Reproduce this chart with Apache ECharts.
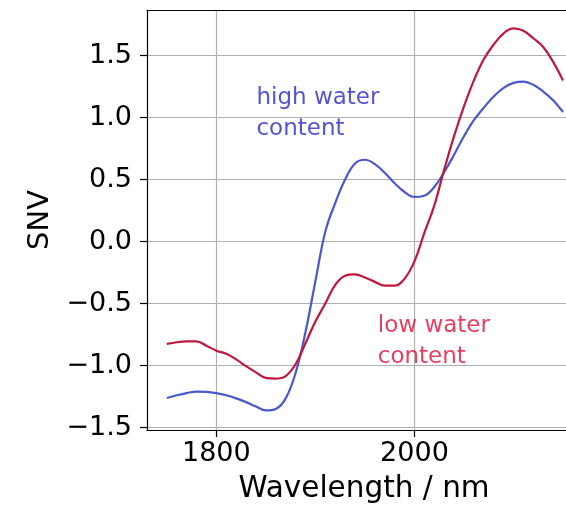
<!DOCTYPE html>
<html>
<head>
<meta charset="utf-8">
<script src="https://cdn.jsdelivr.net/npm/echarts@6/dist/echarts.min.js"></script>
<style>
html,body{margin:0;padding:0;background:#fff;}
#chart{width:566px;height:506px;}
</style>
</head>
<body>
<div id="chart"></div>
<script>
const wavelengths = [1750,1760,1770,1780,1790,1800,1810,1820,1830,1840,1850,1860,1870,1880,1890,1900,1910,1920,1930,1940,1950,1960,1970,1980,1990,2000,2010,2020,2030,2040,2050,2060,2070,2080,2090,2100,2110,2120,2130,2140,2150];
const highWater = [-1.262,-1.24,-1.222,-1.21,-1.212,-1.222,-1.24,-1.265,-1.295,-1.33,-1.362,-1.35,-1.265,-1.06,-0.73,-0.32,0.08,0.31,0.50,0.63,0.66,0.625,0.555,0.47,0.40,0.36,0.37,0.44,0.56,0.70,0.85,0.98,1.08,1.17,1.24,1.28,1.29,1.265,1.21,1.14,1.045];
const lowWater = [-0.825,-0.812,-0.805,-0.805,-0.84,-0.88,-0.905,-0.95,-1.005,-1.055,-1.10,-1.105,-1.085,-0.99,-0.82,-0.645,-0.50,-0.35,-0.275,-0.265,-0.29,-0.325,-0.355,-0.355,-0.30,-0.16,0.07,0.29,0.58,0.85,1.09,1.30,1.47,1.59,1.68,1.72,1.70,1.64,1.57,1.45,1.30];
const xTicks = [1800, 2000];
const yTicks = [-1.5, -1.0, -0.5, 0.0, 0.5, 1.0, 1.5];
const annotations = [
  {text: 'high water\ncontent', x: 1840.5, y: 1.03, color: '#2828c8'},
  {text: 'low water\ncontent', x: 1963, y: -0.81, color: '#e0103a'}
];

const chart = echarts.init(document.getElementById('chart'));
const font = 'DejaVu Sans';
chart.setOption({
  animation: false,
  backgroundColor: '#fff',
  grid: {left: 147, top: 10, right: 0, bottom: 76, containLabel: false, outerBoundsMode: 'none'},
  xAxis: [{
    type: 'value', min: 1730, max: 2153,
    name: 'Wavelength / nm', nameLocation: 'middle', nameGap: 44,
    nameTextStyle: {fontFamily: font, fontSize: 29.5, color: '#000', padding: [0, 0, 0, 15]},
    axisLine: {show: true, onZero: false, lineStyle: {color: '#000', width: 1.2}},
    axisTick: {show: true, length: 7, customValues: xTicks, lineStyle: {color: '#000', width: 1.2}},
    axisLabel: {customValues: xTicks, fontFamily: font, fontSize: 27, color: '#000', margin: 10,
      formatter: v => String(v)},
    splitLine: {show: true, lineStyle: {color: '#b0b0b0', width: 1.2}}
  }, {
    type: 'value', position: 'top', min: 1730, max: 2153,
    axisLine: {show: true, onZero: false, lineStyle: {color: '#000', width: 1.2}},
    axisTick: {show: false}, axisLabel: {show: false}, splitLine: {show: false}
  }],
  yAxis: {
    type: 'value', min: -1.52, max: 1.868,
    name: 'SNV', nameLocation: 'middle', nameGap: 92, nameRotate: 90,
    nameTextStyle: {fontFamily: font, fontSize: 29, color: '#000'},
    axisLine: {show: true, onZero: false, lineStyle: {color: '#000', width: 1.2}},
    axisTick: {show: true, length: 7, customValues: yTicks, lineStyle: {color: '#000', width: 1.2}},
    axisLabel: {customValues: yTicks, fontFamily: font, fontSize: 27, color: '#000', margin: 15,
      formatter: v => (v < 0 ? '\u2212' : '') + Math.abs(v).toFixed(1)},
    splitLine: {show: true, lineStyle: {color: '#b0b0b0', width: 1.2}}
  },
  series: [{
    type: 'line', name: 'high', data: wavelengths.map((w, i) => [w, highWater[i]]),
    smooth: 0.4, showSymbol: false, lineStyle: {color: '#4a58cc', width: 2.2}
  }, {
    type: 'line', name: 'low', data: wavelengths.map((w, i) => [w, lowWater[i]]),
    smooth: 0.4, showSymbol: false, lineStyle: {color: '#c0173d', width: 2.2}
  }, {
    type: 'scatter', symbolSize: 0, silent: true,
    data: annotations.map(a => ({value: [a.x, a.y], label: {
      show: true, position: 'inside', formatter: a.text, color: a.color,
      fontFamily: font, fontSize: 23, lineHeight: 31, align: 'left', verticalAlign: 'middle'
    }}))
  }]
});
</script>
</body>
</html>
